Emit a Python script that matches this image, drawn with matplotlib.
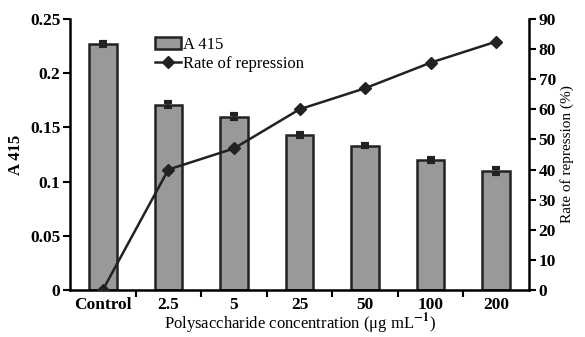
import matplotlib
matplotlib.use('Agg')
from matplotlib import pyplot as plt
import numpy as np

plt.rcParams['font.family'] = ['Liberation Serif', 'DejaVu Serif']
plt.rcParams['mathtext.fontset'] = 'stix'

categorias = ['Control', '2.5', '5', '25', '50', '100', '200']
a415 = [0.227, 0.171, 0.160, 0.143, 0.133, 0.120, 0.110]
a415_err = [0.002, 0.002, 0.002, 0.002, 0.0015, 0.0015, 0.003]
represion = [0, 40, 47, 60, 67, 75.5, 82.5]

fig = plt.figure(figsize=(5.85, 3.37), dpi=100)
ax = fig.add_axes([70/585, 1 - 290/337, 459/585, 271/337])
x = np.arange(len(categorias))

barras = ax.bar(x, a415, width=0.42, color='#999999', edgecolor='#222222', linewidth=1.8,
                yerr=a415_err, capsize=3, error_kw=dict(ecolor='#222222', elinewidth=1.5, capthick=3),
                label='A 415', zorder=2)
ax.set_xlim(-0.5, 6.5)
ax.set_ylim(0, 0.25)
ax.set_yticks([0, 0.05, 0.1, 0.15, 0.2, 0.25])
ax.set_yticklabels(['0', '0.05', '0.1', '0.15', '0.2', '0.25'])
ax.set_xticks(x)
ax.set_xticklabels(categorias)
ax.set_xticks(np.arange(0.5, 6, 1), minor=True)
ax.tick_params(axis='x', which='major', length=0, pad=5)
ax.tick_params(axis='x', which='minor', length=5, width=1.5, direction='out')
ax.tick_params(axis='y', length=5, width=1.5, direction='out', pad=2)
for lab in ax.get_xticklabels() + ax.get_yticklabels():
    lab.set_fontweight('bold')
    lab.set_fontsize(12.5)
ax.spines['top'].set_visible(False)
ax.spines['right'].set_visible(False)
ax.spines['left'].set_linewidth(1.8)
ax.spines['bottom'].set_linewidth(1.8)
ax.set_ylabel('A 415', fontsize=12, fontweight='bold', labelpad=4)
ax.set_xlabel(r'Polysaccharide concentration (μg mL$^{\mathbf{-1}}$)', fontsize=12, labelpad=-1)

ax2 = ax.twinx()
linea, = ax2.plot(x, represion, color='#222222', linewidth=1.8, marker='D', markersize=6,
                  markerfacecolor='#222222', label='Rate of repression', zorder=3)
ax2.set_ylim(0, 90)
ax2.set_yticks(range(0, 91, 10))
ax2.tick_params(axis='y', length=5, width=1.5, direction='out', pad=2)
for lab in ax2.get_yticklabels():
    lab.set_fontweight('bold')
    lab.set_fontsize(12.5)
ax2.spines['top'].set_visible(False)
ax2.spines['left'].set_visible(False)
ax2.spines['bottom'].set_visible(False)
ax2.spines['right'].set_linewidth(1.8)
ax2.set_ylabel('Rate of repression (%)', fontsize=11, labelpad=3)

ax.legend([barras, linea], ['A 415', 'Rate of repression'], loc='upper left',
          bbox_to_anchor=(0.17, 0.96), frameon=False, fontsize=12,
          handlelength=1.6, handletextpad=0.1, borderaxespad=0, labelspacing=0.2)

fig.savefig('out.png', dpi=100)
